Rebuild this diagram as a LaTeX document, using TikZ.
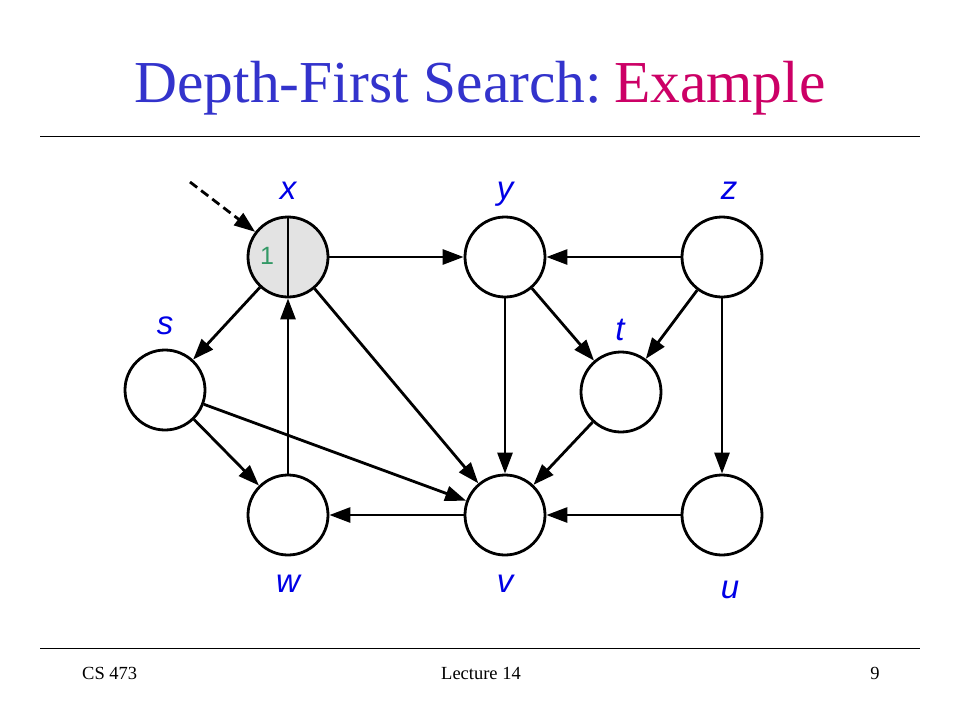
\documentclass[tikz,border=0pt]{standalone}
\usepackage{fontspec}
\setmainfont{Liberation Serif}
\newfontfamily\labfont{Liberation Sans}
\usetikzlibrary{arrows.meta}
\definecolor{titleblue}{RGB}{51,51,204}
\definecolor{titlered}{RGB}{204,0,102}
\definecolor{labblue}{RGB}{0,0,230}
\definecolor{numgreen}{RGB}{51,153,102}
\definecolor{visgray}{RGB}{227,227,227}
\tikzset{
  vert/.style={circle, draw=black, line width=2.8pt, minimum size=80pt, inner sep=0pt, fill=white},
  lbl/.style={anchor=base, text=labblue, font=\labfont\itshape\fontsize{33}{33}\selectfont, inner sep=0pt},
  edge/.style={line width=2.8pt, -{Triangle[length=21pt,width=15pt]}},
  foot/.style={anchor=base, font=\fontsize{18.5}{18.5}\selectfont, inner sep=0pt},
}
\begin{document}
\begin{tikzpicture}[x=1pt,y=-1pt]
\useasboundingbox[fill=white] (0,0) rectangle (960,720);
% title
\node[anchor=base, inner sep=0pt, font=\fontsize{59.5}{59.5}\selectfont] (title) at (480,102)
  {\textcolor{titleblue}{Depth-First Search:}\hspace{0.2em}\textcolor{titlered}{Example}};
\coordinate (tl1) at (40,136);
\coordinate (tl2) at (920,136);
\draw[line width=1pt] (tl1) -- (tl2);
% vertices
\node[vert, fill=visgray] (x) at (288,257) {};
\node[vert] (y) at (505,257) {};
\node[vert] (z) at (722,257) {};
\node[vert] (s) at (165,390) {};
\node[vert] (t) at (621,392) {};
\node[vert] (w) at (288,515) {};
\node[vert] (v) at (505,515) {};
\node[vert] (u) at (722,515) {};
\draw[line width=2.8pt] (x.north) -- (x.south);
\node[anchor=center, text=numgreen, font=\labfont\fontsize{25}{25}\selectfont, inner sep=0pt] (one) at (267,256) {1};
% labels
\node[lbl] (lx) at (288,199) {x};
\node[lbl] (ly) at (505,199) {y};
\node[lbl] (lz) at (729,199) {z};
\node[lbl] (ls) at (165,334) {s};
\node[lbl] (lt) at (620,340) {t};
\node[lbl] (lw) at (288,592) {w};
\node[lbl] (lv) at (505,592) {v};
\node[lbl] (lu) at (730,598) {u};
% edges
\draw[edge] (x) -- (y);
\draw[edge] (z) -- (y);
\draw[edge] (x) -- (s);
\draw[edge] (x) -- (v);
\draw[edge] (w) -- (x);
\draw[edge] (y) -- (v);
\draw[edge] (y) -- (t);
\draw[edge] (z) -- (t);
\draw[edge] (z) -- (u);
\draw[edge] (t) -- (v);
\draw[edge] (s) -- (w);
\draw[edge] (s) -- (v);
\draw[edge] (v) -- (w);
\draw[edge] (u) -- (v);
% start arrow
\coordinate (st) at (190,182);
\draw[edge, dash pattern=on 9pt off 5pt] (st) -- (x);
% footer
\coordinate (fl1) at (40,648);
\coordinate (fl2) at (920,648);
\draw[line width=1pt] (fl1) -- (fl2);
\node[foot, anchor=base west] (f1) at (82,679) {CS 473};
\node[foot] (f2) at (481,679) {Lecture 14};
\node[foot] (f3) at (875,679) {9};
\end{tikzpicture}
\end{document}
